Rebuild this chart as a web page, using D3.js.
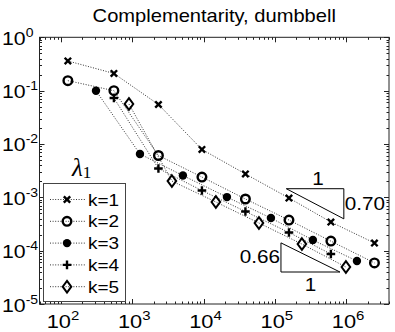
<!DOCTYPE html>
<html><head><meta charset="utf-8">
<script src="https://cdn.jsdelivr.net/npm/d3@7"></script>
<style>body{margin:0;background:#fff}svg{display:block}</style>
</head><body>
<svg id="c" width="395" height="332"></svg>
<script>
const title = "Complementarity, dumbbell";
const seriesNames = ["k=1","k=2","k=3","k=4","k=5"];
const xK1 = [125, 553, 2330, 9500, 38700, 158000, 612000, 2.5e6];
const yK1 = [0.36, 0.21, 0.055, 0.0079, 0.00274, 9.7e-4, 3.44e-4, 1.39e-4];
const xK2 = [125, 553, 2330, 9500, 38700, 158000, 612000, 2.5e6];
const yK2 = [0.154, 0.0998, 0.00608, 0.0024, 9.3e-4, 3.75e-4, 1.51e-4, 5.9e-5];
const xK3 = [310, 1283, 5140, 21300, 88200, 342000, 1.42e6];
const yK3 = [0.0998, 0.00649, 0.00256, 1.01e-3, 4.09e-4, 1.58e-4, 6.4e-5];
const xK4 = [553, 2330, 9500, 38700, 158000, 612000];
const yK4 = [0.0728, 0.00347, 0.00134, 5.42e-4, 2.19e-4, 8.65e-5];
const xK5 = [899, 3600, 14900, 59900, 240000, 994000];
const yK5 = [0.0562, 0.00202, 8.17e-4, 3.3e-4, 1.33e-4, 4.94e-5];
const xTickExp = [2, 3, 4, 5, 6];
const yTickExp = [0, -1, -2, -3, -4, -5];
const tri1 = {x0: 1.45e5, x1: 9.3e5, yTop: 1.45e-3, slope: 0.70, label: "0.70"};
const tri2 = {x0: 1.22e5, x1: 8.2e5, yBot: 3.98e-5, slope: 0.66, label: "0.66"};

const xs = [xK1,xK2,xK3,xK4,xK5], ys=[yK1,yK2,yK3,yK4,yK5];
const markers = ["x","o","dot","+","d"];

const svg = d3.select("#c");
const L=39.5, R=389, T=37.3, B=304;
const x = d3.scaleLog().domain([50, 4e6]).range([L, R]);
const y = d3.scaleLog().domain([1e-5, 1]).range([B, T]);
const SX = 1.15;
const font = "'Liberation Sans', Arial, sans-serif";

function txt(g, px, py, s, size, anchor) {
  const gg = g.append("g").attr("transform", `translate(${px},${py}) scale(${SX},1)`);
  return gg.append("text").attr("text-anchor", anchor||"start").attr("font-family", font)
    .attr("font-size", size).attr("fill", "#000").text(s);
}

txt(svg, (L+R)/2, 22, title, 17.5, "middle");

const axc = "#222";
svg.append("rect").attr("x",L).attr("y",T).attr("width",R-L).attr("height",B-T)
  .attr("fill","none").attr("stroke",axc).attr("stroke-width",1);

const ax = svg.append("g").attr("stroke", axc).attr("stroke-width", 1);
for (let e = 1; e <= 6; e++) {
  for (let m = 1; m <= 9; m++) {
    const v = m * Math.pow(10, e);
    if (v < 50 || v > 4e6) continue;
    const len = m === 1 ? 5 : 2.5;
    const px = Math.round(x(v)) + 0.5;
    ax.append("line").attr("x1",px).attr("x2",px).attr("y1",B).attr("y2",B-len);
    ax.append("line").attr("x1",px).attr("x2",px).attr("y1",T).attr("y2",T+len);
  }
}
for (let e = -5; e <= 0; e++) {
  for (let m = 1; m <= 9; m++) {
    const v = m * Math.pow(10, e);
    if (v > 1) continue;
    const len = m === 1 ? 5 : 2.5;
    const py = Math.round(y(v)) + 0.5;
    ax.append("line").attr("x1",L).attr("x2",L+len).attr("y1",py).attr("y2",py);
    ax.append("line").attr("x1",R).attr("x2",R-len).attr("y1",py).attr("y2",py);
  }
}

xTickExp.forEach(e => {
  const gg = svg.append("g").attr("transform", `translate(${x(Math.pow(10,e))+2},328) scale(${SX},1)`);
  const t = gg.append("text").attr("text-anchor","middle").attr("font-family",font).attr("font-size",19);
  t.append("tspan").text("10");
  t.append("tspan").attr("dy",-8).attr("font-size",13).text(String(e));
});
yTickExp.forEach(e => {
  const gg = svg.append("g").attr("transform", `translate(2,${y(Math.pow(10,e))+7.5}) scale(1.12,1)`);
  const t = gg.append("text").attr("text-anchor","start").attr("font-family",font).attr("font-size",19);
  t.append("tspan").text("10");
  t.append("tspan").attr("dy",-8).attr("font-size",12.5).text(e === 0 ? "0" : "-" + (-e));
});

const line = d3.line().x(d=>x(d[0])).y(d=>y(d[1]));
const plot = svg.append("g");
xs.forEach((xa,i)=>{
  const pts = xa.map((v,j)=>[v, ys[i][j]]);
  plot.append("path").attr("d", line(pts)).attr("fill","none").attr("stroke","#333")
    .attr("stroke-width",1).attr("stroke-dasharray","1,1.6");
});

function drawMarker(g, type, px, py) {
  const sw = 2.4;
  if (type === "x") {
    const s = 3.2;
    g.append("path").attr("d",`M${px-s},${py-s}L${px+s},${py+s}M${px-s},${py+s}L${px+s},${py-s}`)
      .attr("stroke","#000").attr("stroke-width",sw);
  } else if (type === "o") {
    g.append("circle").attr("cx",px).attr("cy",py).attr("r",4.3).attr("fill","none")
      .attr("stroke","#000").attr("stroke-width",sw);
  } else if (type === "dot") {
    g.append("circle").attr("cx",px).attr("cy",py).attr("r",4.2).attr("fill","#000");
  } else if (type === "+") {
    const s = 4.3;
    g.append("path").attr("d",`M${px-s},${py}L${px+s},${py}M${px},${py-s}L${px},${py+s}`)
      .attr("stroke","#000").attr("stroke-width",sw);
  } else if (type === "d") {
    const w = 4.3, h = 5.8;
    g.append("path").attr("d",`M${px},${py-h}L${px+w},${py}L${px},${py+h}L${px-w},${py}Z`)
      .attr("fill","none").attr("stroke","#000").attr("stroke-width",2);
  }
}
xs.forEach((xa,i)=>{
  xa.forEach((v,j)=> drawMarker(plot, markers[i], x(v), y(ys[i][j])));
});

{
  const y1 = tri1.yTop * Math.pow(tri1.x1/tri1.x0, -tri1.slope);
  const p0=[x(tri1.x0),y(tri1.yTop)], p1=[x(tri1.x1),y(tri1.yTop)], p2=[x(tri1.x1),y(y1)];
  svg.append("path").attr("d",`M${p0}L${p1}L${p2}Z`).attr("fill","none").attr("stroke","#000").attr("stroke-width",1);
  txt(svg, (p0[0]+p1[0])/2+3, p0[1]-4, "1", 18, "middle");
  txt(svg, p1[0]+1, (p1[1]+p2[1])/2+6, tri1.label, 18, "start");
}
{
  const yTop = tri2.yBot * Math.pow(tri2.x1/tri2.x0, tri2.slope);
  const p0=[x(tri2.x0),y(yTop)], p1=[x(tri2.x0),y(tri2.yBot)], p2=[x(tri2.x1),y(tri2.yBot)];
  svg.append("path").attr("d",`M${p0}L${p1}L${p2}Z`).attr("fill","none").attr("stroke","#000").attr("stroke-width",1);
  txt(svg, (p1[0]+p2[0])/2, p1[1]+19, "1", 18, "middle");
  txt(svg, p0[0]-1, (p0[1]+p1[1])/2+6, tri2.label, 18, "end");
}

const lg = svg.append("g");
{
  const g2 = lg.append("g").attr("transform","translate(72,176)");
  const t = g2.append("text").attr("font-family","'Liberation Serif','DejaVu Serif',serif").attr("font-size",25);
  t.append("tspan").attr("font-style","italic").text("\u03bb");
  t.append("tspan").attr("dy",2).attr("font-size",17).text("1");
}
lg.append("rect").attr("x",43.5).attr("y",183.5).attr("width",82).attr("height",118)
  .attr("fill","#fff").attr("stroke","#444").attr("stroke-width",1);
seriesNames.forEach((n,i)=>{
  const cy = 199.5 + i*21.8;
  lg.append("line").attr("x1",50).attr("x2",86).attr("y1",cy).attr("y2",cy)
    .attr("stroke","#333").attr("stroke-width",1).attr("stroke-dasharray","1,1.6");
  drawMarker(lg, markers[i], 67, cy);
  txt(lg, 88, cy+6, n, 16.5, "start");
});
</script>
</body></html>
